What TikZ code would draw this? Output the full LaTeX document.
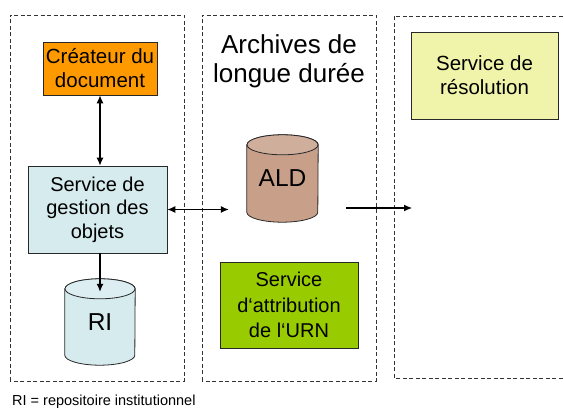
\documentclass[tikz,border=0pt]{standalone}
\usepackage{fontspec}
\setmainfont{Liberation Sans}
\usetikzlibrary{arrows.meta,backgrounds}
\definecolor{orangebox}{RGB}{255,153,0}
\definecolor{bluebox}{RGB}{214,235,238}
\definecolor{greenbox}{RGB}{153,204,0}
\definecolor{yellowbox}{RGB}{240,244,170}
\definecolor{brownbox}{RGB}{200,160,138}
\definecolor{edge}{RGB}{40,40,40}
\tikzset{
  panel/.style={draw=black!80, line width=0.8pt, dash pattern=on 4pt off 2.5pt},
  boxnode/.style={draw=edge, line width=0.8pt, inner sep=0pt, align=center,
    font=\fontsize{20.5}{24}\selectfont},
  cylnode/.style={inner sep=0pt, font=\fontsize{24.5}{28}\selectfont},
  link/.style={line width=1.1pt, -{Latex[length=8pt,width=7pt]}},
  dlink/.style={line width=1.1pt, {Latex[length=8pt,width=7pt]}-{Latex[length=8pt,width=7pt]}},
}
\newcommand{\cylbehind}[4]{% name, color, half width, end radius
  \begin{scope}[on background layer]
    \path[fill=#2, draw=edge, line width=0.8pt]
      ([yshift=-#4]#1.north west) -- ([yshift=#4]#1.south west)
      arc[start angle=180, end angle=360, x radius=#3, y radius=#4]
      -- ([yshift=-#4]#1.north east)
      arc[start angle=0, end angle=180, x radius=#3, y radius=#4] -- cycle;
    \path[fill=#2!85!white, draw=edge, line width=0.8pt]
      ([yshift=-#4]#1.north) ellipse[x radius=#3, y radius=#4];
  \end{scope}}
\begin{document}
\begin{tikzpicture}[x=1pt,y=1pt]
\useasboundingbox (0,0) rectangle (564,409);
\clip (0,0) rectangle (564,409);

% panels
\draw[panel] (10,28) rectangle (184,394);
\draw[panel] (202,28) rectangle (376,394);
\draw[panel] (394,31) rectangle (620,393);

% title
\node[align=center, inner sep=0pt, font=\fontsize{26}{29}\selectfont] (title) at (289,348)
  {Archives de\\longue durée};

% boxes
\node[boxnode, fill=orangebox, minimum width=114pt, minimum height=53pt] (crea) at (100,340.5)
  {Créateur du\\document};
\node[boxnode, fill=bluebox, minimum width=139pt, minimum height=87pt, font=\fontsize{20}{23.5}\selectfont] (gest) at (97.5,199.5)
  {Service de\\gestion des\\objets};
\node[boxnode, fill=greenbox, minimum width=138pt, minimum height=86pt, font=\fontsize{20}{25.5}\selectfont] (attr) at (289,104)
  {Service\\d‘attribution\\de l‘URN};
\node[boxnode, fill=yellowbox, minimum width=147pt, minimum height=87pt] (reso) at (484.5,333.5)
  {Service de\\résolution};

% cylinders
\node[cylnode, minimum width=70pt, minimum height=86pt, text depth=0pt] (ri) at (100,87) {RI};
\cylbehind{ri}{bluebox}{35}{10}
\node[cylnode, minimum width=71pt, minimum height=87pt] (ald) at (282.5,230.5) {ALD};
\cylbehind{ald}{brownbox}{35.5}{10}

% connectors
\draw[dlink] (crea.south) -- (crea.south |- gest.north);
\draw[link] (ri.north |- gest.south) -- ([yshift=-13pt]ri.north);
\draw[dlink] (gest.east) -- ([xshift=-18pt]ald.west |- gest.east);
\coordinate (aldout) at (346,201);
\coordinate (resin) at (412,201);
\draw[link] (aldout) -- (resin);

% footnote
\node[anchor=base west, inner sep=0pt, font=\fontsize{14.5}{17}\selectfont] (note) at (12,3.5)
  {RI = repositoire institutionnel};
\end{tikzpicture}
\end{document}
